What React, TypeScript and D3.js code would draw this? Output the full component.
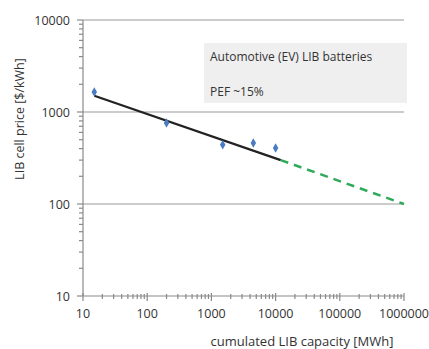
import React, { useEffect, useRef } from 'react';
import * as d3 from 'd3';

// data
const capacity = [15, 200, 1500, 4500, 10000];
const price = [1650, 760, 440, 460, 405];
const fitX = [15, 12000];
const fitY = [1500, 300];
const projX = [12000, 1000000];
const projY = [300, 100];
const xTicks = [10, 100, 1000, 10000, 100000, 1000000];
const yTicks = [10, 100, 1000, 10000];
const legendLines = ['Automotive (EV) LIB batteries', 'PEF ~15%'];

export default function App() {
  const ref = useRef<SVGSVGElement>(null);

  useEffect(() => {
    const svg = d3.select(ref.current);
    svg.selectAll('*').remove();
    const font = '"Open Sans", Lato, sans-serif';

    const x = d3.scaleLog().domain([10, 1000000]).range([83, 404]);
    const y = d3.scaleLog().domain([10, 10000]).range([296, 20]);

    // minor ticks
    const minors: number[] = [];
    for (let d = 10; d < 1000000; d *= 10) for (let k = 2; k <= 9; k++) minors.push(d * k);
    const yMinors = minors.filter(v => v < 10000);

    // horizontal gridlines
    svg.append('g').selectAll('line').data(yTicks.slice(1)).enter().append('line')
      .attr('x1', x(10)).attr('x2', x(1000000))
      .attr('y1', d => y(d)).attr('y2', d => y(d))
      .attr('stroke', '#9a9a9a').attr('stroke-width', 1.2);

    // axes
    const ax = svg.append('g').attr('stroke', '#8a8a8a').attr('stroke-width', 1.2);
    ax.append('line').attr('x1', x(10)).attr('x2', x(10)).attr('y1', y(10000)).attr('y2', y(10));
    ax.append('line').attr('x1', x(10)).attr('x2', x(1000000)).attr('y1', y(10)).attr('y2', y(10));
    ax.selectAll('.ym').data(yMinors).enter().append('line')
      .attr('x1', x(10) - 4).attr('x2', x(10)).attr('y1', d => y(d)).attr('y2', d => y(d));
    ax.selectAll('.yM').data(yTicks).enter().append('line')
      .attr('x1', x(10) - 6).attr('x2', x(10)).attr('y1', d => y(d)).attr('y2', d => y(d));
    ax.selectAll('.xm').data(minors).enter().append('line')
      .attr('x1', d => x(d)).attr('x2', d => x(d)).attr('y1', y(10) - 2).attr('y2', y(10) + 3);
    ax.selectAll('.xM').data(xTicks).enter().append('line')
      .attr('x1', d => x(d)).attr('x2', d => x(d)).attr('y1', y(10) - 3).attr('y2', y(10) + 5);

    // tick labels
    svg.append('g').selectAll('text').data(yTicks).enter().append('text')
      .attr('x', 70).attr('y', d => y(d) + 4.5).attr('text-anchor', 'end')
      .attr('font-family', font).attr('font-size', 12.5).attr('fill', '#333')
      .text(d => String(d));
    svg.append('g').selectAll('text').data(xTicks).enter().append('text')
      .attr('x', d => x(d)).attr('y', 318).attr('text-anchor', 'middle')
      .attr('font-family', font).attr('font-size', 12.5).attr('fill', '#333')
      .text(d => String(d));

    // axis titles
    svg.append('text').attr('transform', 'translate(24,119) rotate(-90)')
      .attr('text-anchor', 'middle').attr('font-family', font).attr('font-size', 12.5).attr('fill', '#333')
      .text('LIB cell price [$/kWh]');
    svg.append('text').attr('x', 302).attr('y', 346).attr('text-anchor', 'middle')
      .attr('font-family', font).attr('font-size', 13).attr('fill', '#333')
      .text('cumulated LIB capacity [MWh]');

    // legend box
    svg.append('rect').attr('x', 204).attr('y', 43).attr('width', 203).attr('height', 60).attr('fill', '#efefef');
    svg.append('g').selectAll('text').data(legendLines).enter().append('text')
      .attr('x', 210).attr('y', (d, i) => 61 + i * 35)
      .attr('font-family', font).attr('font-size', 12).attr('fill', '#333')
      .text(d => d);

    // trend lines
    const line = d3.line<[number, number]>().x(d => x(d[0])).y(d => y(d[1]));
    svg.append('path').attr('d', line(fitX.map((v, i) => [v, fitY[i]] as [number, number])))
      .attr('fill', 'none').attr('stroke', '#222').attr('stroke-width', 2.2);
    svg.append('path').attr('d', line(projX.map((v, i) => [v, projY[i]] as [number, number])))
      .attr('fill', 'none').attr('stroke', '#2eaa5a').attr('stroke-width', 2.5).attr('stroke-dasharray', '8,6');

    // data points
    svg.append('g').selectAll('path').data(capacity).enter().append('path')
      .attr('d', d3.symbol().type(d3.symbolDiamond).size(26)())
      .attr('transform', (d, i) => `translate(${x(d)},${y(price[i])})`)
      .attr('fill', '#4a7cc4');
  }, []);

  return <svg ref={ref} width={429} height={349} style={{ display: 'block', position: 'absolute', left: 0, top: 0, background: '#fff' }} />;
}
